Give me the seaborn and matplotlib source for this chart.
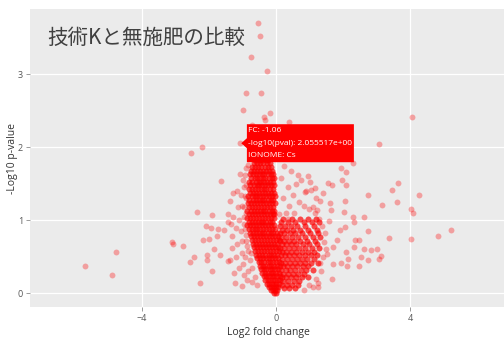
import numpy as np
import pandas as pd
import matplotlib
matplotlib.use("Agg")
import matplotlib.pyplot as plt
import matplotlib.transforms as mtransforms
from matplotlib.patches import Polygon
import seaborn as sns

# ---- data: (log2 fold change, -log10 p-value) ----
left_tail = [
    (-5.68, 0.38), (-4.87, 0.25), (-4.75, 0.56), (-3.10, 0.70), (-3.06, 0.67),
    (-2.77, 0.65), (-2.56, 0.43), (-2.43, 0.50), (-2.26, 0.14), (-2.34, 1.12),
    (-2.53, 1.92), (-2.20, 2.00), (-2.17, 0.73), (-2.08, 0.92), (-2.04, 0.52),
    (-2.04, 0.46), (-1.99, 0.75), (-1.92, 0.89), (-1.91, 0.31), (-1.90, 1.07),
    (-1.85, 0.60), (-1.75, 0.78), (-1.73, 0.88), (-1.65, 0.53), (-1.62, 1.54),
    (-1.54, 0.87), (-1.44, 1.09), (-1.44, 0.97), (-1.44, 0.44),
]

left_shoulder = [
    (-1.37, 1.26), (-1.27, 1.37), (-1.10, 1.00), (-1.07, 1.64), (-1.32, 0.62),
    (-1.37, 0.45), (-1.22, 0.14), (-1.15, 0.68), (-0.95, 1.45), (-1.00, 1.20),
    (-0.90, 0.80), (-1.00, 0.55), (-1.10, 0.35), (-0.95, 0.25), (-1.20, 0.90),
    (-0.88, 1.10), (-1.05, 0.85), (-0.92, 0.50), (-1.25, 0.28), (-0.85, 0.18),
    (-1.30, 0.78), (-0.98, 1.55), (-1.18, 0.50), (-0.90, 1.30), (-1.00, 0.10),
    (-1.28, 1.05), (-1.12, 1.18), (-0.86, 0.65), (-0.95, 0.95), (-1.15, 1.40),
    (-0.88, 1.72), (-1.35, 0.95),
]

# sparser features hugging the edges of the dense core
core_fringe = [
    (-0.92, 1.62), (-0.90, 1.48), (-0.93, 1.33), (-0.95, 1.18), (-0.94, 1.05),
    (-0.92, 0.88), (-0.88, 0.72), (-0.84, 0.58), (-0.78, 0.45), (-0.70, 0.35),
    (-0.62, 0.22), (-0.55, 0.12), (-0.82, 0.30), (-0.75, 0.55), (-1.05, 1.35),
    (-1.02, 0.72), (-0.98, 0.40), (-0.72, 0.15), (1.38, 0.92), (1.42, 0.70),
    (1.40, 0.50), (1.35, 0.30), (1.20, 0.20), (1.00, 0.12), (0.85, 0.05),
    (1.45, 0.82), (1.25, 0.08), (0.10, 1.08), (0.35, 1.02), (1.48, 0.60),
]

peak = [
    (-0.99, 2.51), (-0.90, 2.74), (-0.73, 3.23), (-0.54, 3.70), (-0.46, 3.53),
    (-0.26, 3.05), (-0.45, 2.74), (-0.17, 2.47), (-0.36, 2.41), (-0.33, 2.38),
    (0.39, 2.35), (0.37, 2.19), (0.20, 1.96), (-0.83, 1.76), (-0.70, 2.30),
    (-0.55, 2.18), (-0.30, 2.10), (-0.62, 1.95), (-0.20, 1.92), (-0.45, 2.02),
    (-0.78, 1.98), (-0.12, 2.15), (0.05, 1.90),
]

right_shoulder = [
    (0.25, 1.75), (0.45, 1.68), (0.60, 1.50), (0.75, 1.55), (0.90, 1.40),
    (1.05, 1.42), (1.20, 1.30), (0.35, 1.45), (0.50, 1.35), (0.70, 1.25),
    (0.85, 1.20), (1.00, 1.15), (1.15, 1.10), (0.20, 1.30), (0.40, 1.20),
    (0.55, 1.10), (0.65, 1.62), (0.15, 1.58), (0.30, 1.10), (1.28, 1.02),
    (0.95, 1.60), (0.45, 1.85), (1.01, 1.52), (1.16, 1.44), (1.41, 1.37),
    (0.86, 1.39), (1.31, 1.27), (1.10, 1.18), (1.21, 1.14),
]

right_tail = [
    (1.93, 1.71), (2.08, 1.66), (1.98, 1.55), (2.10, 1.48), (1.67, 1.48),
    (1.54, 1.51), (2.74, 1.34), (2.05, 1.27), (1.62, 1.23), (1.64, 1.14),
    (2.02, 1.11), (2.30, 1.05), (2.63, 1.05), (2.33, 0.97), (1.59, 0.99),
    (1.90, 0.86), (2.73, 0.85), (3.37, 0.76), (4.02, 0.75), (4.83, 0.78),
    (5.20, 0.87), (1.81, 0.73), (2.35, 0.73), (2.48, 0.73), (2.62, 0.60),
    (2.83, 0.59), (3.02, 0.61), (3.14, 0.51), (3.06, 0.47), (2.73, 0.45),
    (2.53, 0.49), (2.46, 0.37), (2.16, 0.47), (2.10, 0.57), (2.12, 0.38),
    (1.93, 0.42), (1.71, 0.40), (1.66, 0.20), (2.33, 0.64), (1.71, 0.63),
    (1.51, 0.54), (1.31, 0.41), (1.26, 0.14), (1.11, 0.09), (3.45, 1.42),
    (3.62, 1.51), (3.59, 1.25), (3.17, 1.21), (4.27, 1.35), (4.02, 1.15),
    (4.07, 1.10), (4.05, 2.42), (3.06, 2.04), (2.30, 1.78), (2.05, 0.91),
]

# dense stem left of zero: rows of (-log10 p, [log2 fold changes])
stem_rows = [
    (1.88, [-0.55, -0.44, -0.36]),
    (1.83, [-0.62, -0.50, -0.41, -0.30, -0.23]),
    (1.78, [-0.66, -0.57, -0.47, -0.38, -0.27, -0.18]),
    (1.73, [-0.70, -0.61, -0.53, -0.44, -0.33, -0.24, -0.14]),
    (1.68, [-0.74, -0.64, -0.55, -0.48, -0.39, -0.29, -0.20, -0.11]),
    (1.63, [-0.77, -0.68, -0.59, -0.51, -0.42, -0.35, -0.25, -0.16, -0.08]),
    (1.58, [-0.73, -0.63, -0.55, -0.46, -0.38, -0.31, -0.22, -0.13, -0.06]),
    (1.53, [-0.79, -0.70, -0.60, -0.51, -0.43, -0.34, -0.27, -0.18, -0.10]),
    (1.48, [-0.76, -0.66, -0.57, -0.49, -0.40, -0.32, -0.23, -0.15, -0.05]),
    (1.43, [-0.81, -0.71, -0.62, -0.53, -0.45, -0.36, -0.28, -0.19, -0.09]),
    (1.38, [-0.77, -0.68, -0.58, -0.50, -0.41, -0.33, -0.24, -0.14, -0.06]),
    (1.33, [-0.83, -0.72, -0.63, -0.55, -0.46, -0.37, -0.29, -0.20, -0.11, -0.04]),
    (1.28, [-0.79, -0.69, -0.60, -0.51, -0.42, -0.34, -0.25, -0.16, -0.08]),
    (1.23, [-0.84, -0.74, -0.65, -0.56, -0.47, -0.38, -0.30, -0.21, -0.12, -0.04]),
    (1.18, [-0.80, -0.70, -0.61, -0.52, -0.43, -0.35, -0.26, -0.17, -0.09]),
    (1.13, [-0.86, -0.75, -0.66, -0.57, -0.48, -0.39, -0.31, -0.22, -0.13, -0.06]),
    (1.08, [-0.81, -0.71, -0.62, -0.53, -0.44, -0.36, -0.27, -0.18, -0.10, -0.06]),
    (1.03, [-0.85, -0.76, -0.67, -0.58, -0.49, -0.40, -0.32, -0.23, -0.14, -0.05]),
    (0.98, [-0.80, -0.71, -0.63, -0.54, -0.45, -0.37, -0.28, -0.19, -0.11]),
    (0.93, [-0.86, -0.76, -0.67, -0.59, -0.50, -0.41, -0.33, -0.24, -0.15, -0.06]),
    (0.88, [-0.81, -0.72, -0.63, -0.55, -0.46, -0.38, -0.29, -0.20, -0.12, -0.03]),
    (0.83, [-0.78, -0.68, -0.59, -0.51, -0.42, -0.34, -0.25, -0.16, -0.08, 0.02]),
    (0.78, [-0.75, -0.65, -0.56, -0.47, -0.39, -0.30, -0.21, -0.13, -0.04, 0.05]),
    (0.73, [-0.71, -0.62, -0.53, -0.44, -0.35, -0.27, -0.18, -0.09, -0.01, 0.08]),
    (0.68, [-0.68, -0.58, -0.49, -0.41, -0.32, -0.23, -0.15, -0.06, 0.03]),
    (0.63, [-0.65, -0.55, -0.46, -0.37, -0.29, -0.20, -0.11, -0.03, 0.06]),
    (0.58, [-0.61, -0.52, -0.43, -0.34, -0.26, -0.17, -0.08, 0.01, 0.09]),
    (0.53, [-0.58, -0.49, -0.40, -0.31, -0.22, -0.14, -0.05, 0.04]),
    (0.48, [-0.55, -0.46, -0.37, -0.28, -0.20, -0.11, -0.02, 0.07]),
    (0.43, [-0.51, -0.43, -0.34, -0.25, -0.17, -0.08, 0.01, 0.09]),
    (0.38, [-0.48, -0.39, -0.31, -0.22, -0.14, -0.05, 0.04, 0.12]),
    (0.33, [-0.44, -0.36, -0.28, -0.19, -0.11, -0.03, 0.06]),
    (0.28, [-0.41, -0.33, -0.25, -0.16, -0.08, 0.00, 0.09]),
    (0.23, [-0.36, -0.29, -0.21, -0.13, -0.05, 0.03, 0.11]),
    (0.18, [-0.32, -0.25, -0.17, -0.10, -0.02, 0.05, 0.12]),
    (0.13, [-0.27, -0.20, -0.13, -0.06, 0.01, 0.08]),
    (0.08, [-0.21, -0.14, -0.07, 0.00, 0.06]),
    (0.04, [-0.14, -0.08, -0.02, 0.04]),
    (0.00, [-0.06, 0.01]),
]
stem_count = 3  # overlapping features per stem position

# right arm of the volcano
arm_rows = [
    (1.02, [0.22, 0.48, 0.71, 0.96, 1.18]),
    (0.97, [0.15, 0.35, 0.58, 0.83, 1.08, 1.27]),
    (0.92, [0.12, 0.27, 0.44, 0.63, 0.88, 1.14]),
    (0.87, [0.18, 0.34, 0.52, 0.72, 0.95, 1.21]),
    (0.82, [0.11, 0.25, 0.41, 0.58, 0.79, 1.02, 1.26]),
    (0.77, [0.16, 0.31, 0.47, 0.66, 0.86, 1.09, 1.31]),
    (0.72, [0.12, 0.24, 0.38, 0.54, 0.72, 0.93, 1.16]),
    (0.67, [0.17, 0.30, 0.45, 0.61, 0.80, 1.00, 1.23]),
    (0.62, [0.13, 0.25, 0.39, 0.53, 0.69, 0.87, 1.07, 1.29]),
    (0.57, [0.18, 0.31, 0.46, 0.61, 0.77, 0.95, 1.14]),
    (0.52, [0.14, 0.26, 0.40, 0.55, 0.70, 0.86, 1.03, 1.22]),
    (0.47, [0.19, 0.33, 0.47, 0.62, 0.78, 0.94, 1.12]),
    (0.42, [0.15, 0.28, 0.42, 0.56, 0.71, 0.88, 1.05, 1.24]),
    (0.37, [0.20, 0.34, 0.49, 0.64, 0.80, 0.97]),
    (0.32, [0.16, 0.29, 0.43, 0.58, 0.74, 0.91, 1.10]),
    (0.27, [0.21, 0.36, 0.51, 0.67, 0.84]),
    (0.22, [0.18, 0.31, 0.45, 0.60, 0.77, 0.95]),
    (0.17, [0.22, 0.37, 0.53, 0.70]),
    (0.12, [0.19, 0.33, 0.49, 0.65]),
    (0.07, [0.23, 0.40, 0.58]),
]
arm_count = 3

# hovered feature
hover_fc = -1.06
hover_p = 2.055517
hover_ion = "Cs"

# ---- assemble table ----
rows = []
for pts in (left_tail, left_shoulder, core_fringe, peak, right_shoulder,
            right_tail):
    rows += list(pts)
for p, fcs in stem_rows:
    for fc in fcs:
        rows += [(fc, p)] * stem_count
for p, fcs in arm_rows:
    for fc in fcs:
        rows += [(fc, p)] * arm_count
rows.append((hover_fc, hover_p))
df = pd.DataFrame(rows, columns=["log2fc", "neglog10p"])

# ---- style ----
sns.set_style("darkgrid", {"axes.facecolor": "#EBEBEB", "grid.color": "white"})
plt.rcParams["font.family"] = ["Open Sans", "DejaVu Sans"]

W, H = 504, 342
fig = plt.figure(figsize=(W / 100, H / 100), dpi=100)
ax = fig.add_axes([30 / W, 1 - 306.7 / H, 474 / W, 297.4 / H])

sns.scatterplot(data=df, x="log2fc", y="neglog10p", color="#FF0000",
                alpha=0.32, s=18, linewidth=0, ax=ax, legend=False)

ax.set_xlim(-7.32, 6.79)
ax.set_ylim(-0.184, 3.89)
ax.set_xticks([-4, 0, 4])
ax.set_yticks([0, 1, 2, 3])
ax.grid(True, color="white", linewidth=0.9)
for s in ax.spines.values():
    s.set_visible(False)
ax.tick_params(axis="both", length=3, width=0.6, color="#8a8a8a",
               labelcolor="#555555", labelsize=6.5, pad=2)
ax.tick_params(axis="x", bottom=True)
ax.tick_params(axis="y", left=True)
ax.set_xlabel("")
ax.set_ylabel("")

fig.text(268 / W, 1 - 332 / H, "Log2 fold change", ha="center", va="center",
         fontsize=7.5, color="#333333")
fig.text(13 / W, 1 - 158 / H, "-Log10 p-value", ha="center", va="center",
         rotation=90, fontsize=7.5, color="#333333")

fig.text(47 / W, 1 - 38 / H, "技術Kと無施肥の比較", ha="left", va="center",
         fontsize=14.8, color="#404040",
         family=["Noto Sans CJK JP", "DejaVu Sans"])

# ---- hover label ----
anchor = mtransforms.ScaledTranslation(hover_fc, hover_p, ax.transData)
label_shape = [(1, 0), (6.6, 5), (6.6, 19), (113.6, 19), (113.6, -19),
               (6.6, -19), (6.6, -5)]
ax.add_patch(Polygon(label_shape, closed=True, facecolor="#FF0000",
                     edgecolor="none", transform=anchor, clip_on=False,
                     zorder=5))
hover_lines = [f"FC: {hover_fc:.2f}",
               f"-log10(pval): {hover_p:.6e}",
               f"IONOME: {hover_ion}"]
for i, line in enumerate(hover_lines):
    ax.annotate(line, xy=(hover_fc, hover_p), xytext=(8, 12.3 - 12.5 * i),
                textcoords="offset pixels", ha="left", va="center",
                color="white", fontsize=6, zorder=6)

fig.savefig("out.png", dpi=100)
